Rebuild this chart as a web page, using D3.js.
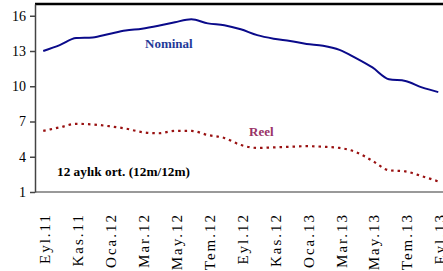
<!DOCTYPE html>
<html>
<head>
<meta charset="utf-8">
<script src="https://cdn.jsdelivr.net/npm/d3@7"></script>
<style>
  body { margin: 0; background: #fff; }
  svg { display: block; }
  text { font-family: "Liberation Serif", "Times New Roman", serif; }
</style>
</head>
<body>
<svg id="chart" width="443" height="271"></svg>
<script>
const months = ["Eyl.11","Eki.11","Kas.11","Ara.11","Oca.12","Şub.12","Mar.12","Nis.12","May.12","Haz.12","Tem.12","Ağu.12",
                "Eyl.12","Eki.12","Kas.12","Ara.12","Oca.13","Şub.13","Mar.13","Nis.13","May.13","Haz.13","Tem.13","Ağu.13","Eyl.13"];
const nominal = [13.0,13.5,14.1,14.15,14.45,14.75,14.9,15.15,15.45,15.7,15.35,15.2,
                 14.85,14.35,14.05,13.85,13.6,13.45,13.1,12.4,11.6,10.6,10.45,9.9,9.5];
const reel = [6.2,6.5,6.8,6.75,6.6,6.4,6.1,6.0,6.2,6.2,5.85,5.6,
              5.0,4.75,4.8,4.85,4.9,4.85,4.75,4.4,3.65,2.85,2.75,2.35,1.9];
const yTicks = [1,4,7,10,13,16];

const svg = d3.select("#chart");
const mLeft = 35, mRight = 446.5, mTop = 4, mBottom = 192;

const x = d3.scalePoint().domain(months).range([mLeft, mRight]).padding(0.5);
const y = d3.scaleLinear().domain([1, 17]).range([mBottom, mTop]);

// frame
svg.append("line").attr("x1", mLeft).attr("x2", 443).attr("y1", mTop).attr("y2", mTop)
  .attr("stroke", "#000").attr("stroke-width", 2.5);
svg.append("line").attr("x1", mLeft).attr("x2", 443).attr("y1", mBottom).attr("y2", mBottom)
  .attr("stroke", "#999").attr("stroke-width", 2);

// y axis
const yAxis = svg.append("g").attr("transform", `translate(${mLeft},0)`)
  .call(d3.axisLeft(y).tickValues(yTicks).tickSize(5).tickSizeOuter(0).tickPadding(4));
yAxis.select(".domain").attr("stroke", "#444").attr("stroke-width", 1.5);
yAxis.selectAll(".tick line").attr("stroke", "#444").attr("stroke-width", 1.5);
yAxis.selectAll("text").attr("font-size", 14).attr("font-family", "Liberation Serif").attr("fill", "#000");

// x labels, vertical
const xAxis = svg.append("g").attr("transform", `translate(0,${mBottom})`)
  .call(d3.axisBottom(x).tickValues(months.filter((d, i) => i % 2 === 0)).tickSize(0));
xAxis.select(".domain").remove();
xAxis.selectAll("text")
  .attr("font-size", 15).attr("font-family", "Liberation Serif").attr("fill", "#000")
  .attr("letter-spacing", 2)
  .attr("text-anchor", "end")
  .attr("transform", "rotate(-90)")
  .attr("x", -21).attr("y", 0).attr("dx", 0).attr("dy", 6.5);

const line = d3.line().x((d, i) => x(months[i])).y(d => y(d)).curve(d3.curveMonotoneX);

svg.append("path").datum(nominal).attr("d", line)
  .attr("fill", "none").attr("stroke", "#0a0a8a").attr("stroke-width", 2);
svg.append("path").datum(reel).attr("d", line)
  .attr("fill", "none").attr("stroke", "#991111").attr("stroke-width", 2.2)
  .attr("stroke-dasharray", "2.5,4");

svg.append("text").attr("x", 145).attr("y", 47.5).text("Nominal")
  .attr("font-weight", "bold").attr("font-size", 13).attr("fill", "#1f3a99");
svg.append("text").attr("x", 249).attr("y", 136).text("Reel")
  .attr("font-weight", "bold").attr("font-size", 13).attr("fill", "#993366");
svg.append("text").attr("x", 57).attr("y", 176).text("12 aylık ort. (12m/12m)")
  .attr("font-weight", "bold").attr("font-size", 13.3).attr("fill", "#000");
</script>
</body>
</html>
